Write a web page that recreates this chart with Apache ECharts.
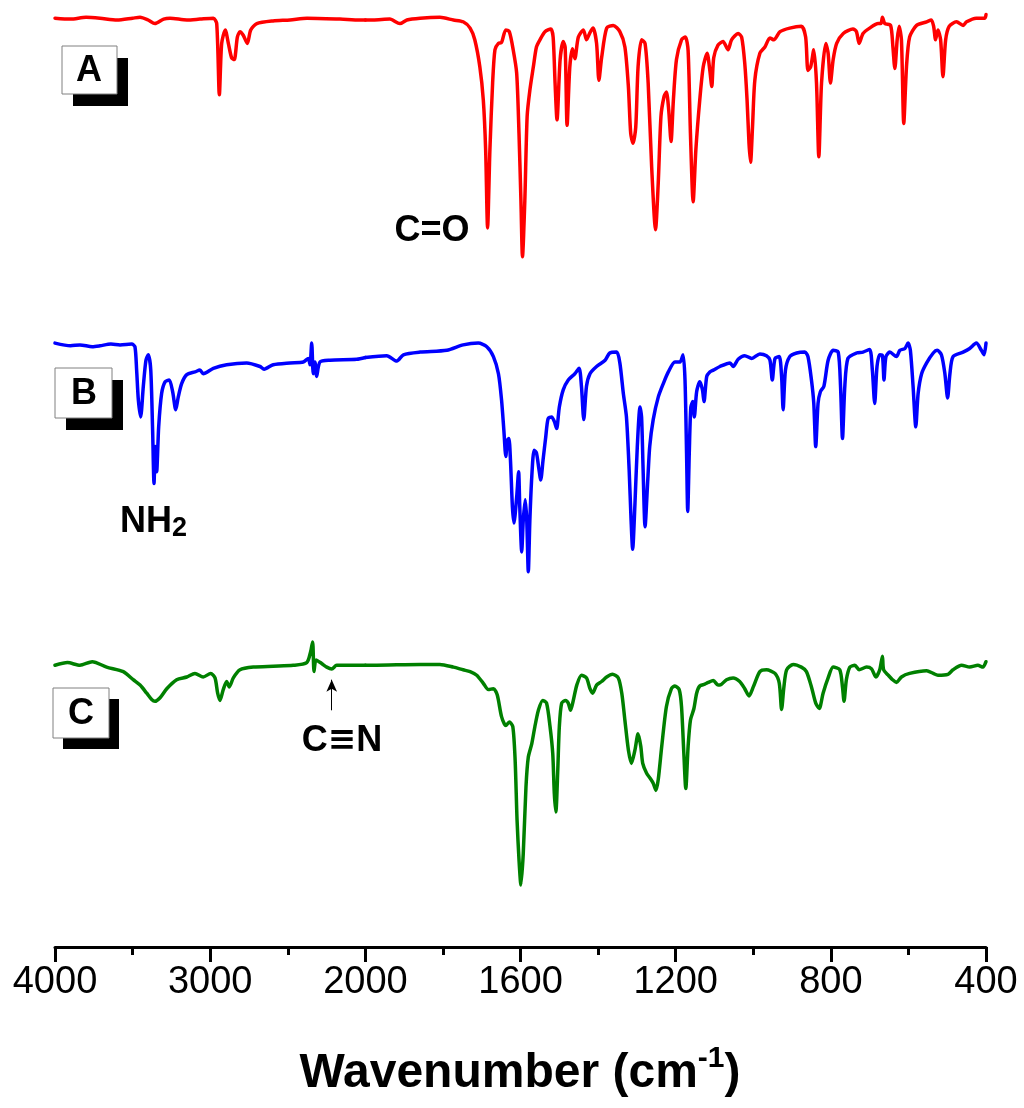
<!DOCTYPE html>
<html><head><meta charset="utf-8">
<script src="https://cdn.jsdelivr.net/npm/echarts@6/dist/echarts.min.js"></script>
<style>html,body{margin:0;padding:0;background:#fff}#c{width:1024px;height:1108px}</style>
</head><body><div id="c"></div>
<script>
// FTIR spectra: [wavenumber (cm-1), transmittance (a.u., offset)]
const spectrumA = [[4000,103.2],[3900,103.1],[3800,103.3],[3710,103.2],[3600,103.0],[3500,103.2],[3452,103.3],[3400,103.0],[3356,102.6],[3300,103.1],[3259,103.2],[3150,103.0],[3066,103.1],[2980,103.2],[2958,102.6],[2941,94.7],[2926,100.4],[2903,101.9],[2883,100.4],[2862,98.8],[2845,98.6],[2825,101.1],[2808,101.7],[2787,101.3],[2761,100.4],[2739,101.9],[2700,102.6],[2595,102.9],[2486,103.0],[2376,103.2],[2164,103.1],[2035,103.0],[2000,103.0],[1980,103.0],[1937,103.1],[1911,102.6],[1893,103.0],[1859,103.2],[1808,103.3],[1773,103.0],[1748,102.8],[1730,102.1],[1718,100.8],[1705,97.8],[1696,94.1],[1690,88.6],[1685,79.9],[1679,88.6],[1672,96.0],[1666,99.7],[1657,100.4],[1649,100.5],[1638,101.9],[1629,101.7],[1619,99.7],[1610,97.1],[1604,90.4],[1599,82.9],[1595,76.7],[1589,82.9],[1583,92.3],[1576,95.2],[1567,97.8],[1559,100.0],[1550,100.8],[1537,101.7],[1522,102.0],[1516,101.1],[1511,96.0],[1506,91.9],[1498,98.6],[1490,100.6],[1485,100.0],[1480,91.3],[1473,97.8],[1466,99.8],[1460,98.7],[1451,101.1],[1438,101.9],[1430,100.8],[1421,101.6],[1413,102.1],[1404,100.4],[1398,96.3],[1391,98.8],[1378,102.1],[1361,102.4],[1344,101.7],[1331,100.0],[1322,95.6],[1316,90.4],[1310,89.3],[1303,91.1],[1297,97.8],[1288,100.8],[1279,100.4],[1271,96.0],[1262,86.7],[1252,79.7],[1245,84.9],[1238,92.3],[1230,94.5],[1224,95.0],[1218,93.0],[1212,89.5],[1206,94.1],[1198,98.6],[1185,100.8],[1175,101.1],[1168,99.6],[1162,90.4],[1155,82.8],[1148,88.6],[1138,94.1],[1129,97.8],[1119,99.3],[1112,97.4],[1107,95.6],[1102,98.8],[1091,100.2],[1078,100.6],[1065,99.7],[1056,100.8],[1039,101.5],[1030,101.1],[1022,98.2],[1016,94.1],[1011,89.3],[1007,87.2],[1002,91.1],[996,96.3],[983,99.3],[970,100.0],[957,101.0],[947,100.8],[931,101.7],[906,102.1],[876,102.3],[865,101.1],[859,97.4],[852,97.8],[844,99.7],[837,96.0],[831,87.8],[824,96.0],[813,100.4],[807,99.3],[801,96.0],[794,98.6],[785,100.4],[768,101.5],[743,102.0],[734,101.7],[727,100.4],[717,101.5],[700,102.1],[678,102.6],[671,102.6],[667,103.3],[661,102.6],[646,102.4],[640,100.0],[635,97.6],[629,100.8],[624,102.3],[618,100.8],[612,91.5],[605,97.8],[597,101.1],[579,102.4],[553,102.8],[541,103.0],[535,102.3],[530,100.8],[524,101.9],[517,100.8],[511,96.7],[504,100.8],[495,102.3],[476,102.8],[459,102.4],[450,102.8],[425,103.2],[403,103.2],[400,103.6]];

const spectrumB = [[4000,67.1],[3900,66.8],[3839,66.9],[3760,66.7],[3710,66.8],[3640,67.0],[3581,66.9],[3506,67.0],[3485,66.7],[3474,64.1],[3463,60.8],[3448,58.9],[3431,62.3],[3414,65.2],[3399,65.8],[3383,64.1],[3371,57.4],[3362,51.5],[3354,55.6],[3345,52.8],[3332,57.8],[3313,61.5],[3291,62.8],[3264,63.0],[3242,61.7],[3222,59.7],[3206,61.1],[3184,62.6],[3151,63.6],[3098,63.9],[3066,64.1],[3045,63.7],[2980,64.3],[2894,64.7],[2765,64.9],[2679,64.5],[2653,64.2],[2594,64.7],[2486,64.9],[2400,65.0],[2368,65.4],[2357,64.7],[2346,67.1],[2336,63.7],[2325,65.0],[2314,63.4],[2293,65.0],[2228,65.2],[2056,65.3],[2000,65.5],[1945,65.7],[1919,65.1],[1902,65.8],[1859,66.1],[1790,66.3],[1748,66.9],[1709,67.1],[1687,66.7],[1670,65.6],[1657,63.7],[1649,60.8],[1643,57.4],[1638,54.5],[1634,56.3],[1630,56.5],[1626,54.1],[1621,48.9],[1617,47.1],[1610,50.0],[1605,52.8],[1602,48.9],[1597,43.9],[1593,47.4],[1588,49.7],[1584,47.4],[1580,41.7],[1576,47.4],[1571,52.3],[1565,55.2],[1559,54.9],[1553,53.2],[1548,51.9],[1542,54.1],[1535,56.7],[1529,58.7],[1520,58.9],[1513,58.4],[1507,57.6],[1500,60.0],[1490,61.9],[1477,63.0],[1460,63.7],[1449,64.3],[1443,62.3],[1437,58.6],[1430,62.3],[1421,63.7],[1404,64.5],[1382,65.2],[1370,66.0],[1352,66.1],[1344,64.9],[1335,61.5],[1327,58.9],[1320,53.0],[1315,47.4],[1311,44.2],[1305,49.3],[1299,55.6],[1292,60.0],[1288,58.9],[1284,53.0],[1279,46.7],[1272,51.9],[1267,55.6],[1258,58.6],[1245,61.1],[1232,62.6],[1219,63.9],[1202,65.0],[1189,65.0],[1181,65.8],[1176,63.0],[1172,54.9],[1169,48.4],[1165,54.9],[1161,60.0],[1156,60.6],[1152,58.9],[1146,61.7],[1138,62.8],[1131,61.9],[1127,60.6],[1120,63.4],[1112,63.9],[1103,64.1],[1086,64.5],[1060,64.9],[1052,64.5],[1039,65.3],[1022,65.7],[1004,65.4],[983,65.9],[966,65.7],[957,65.2],[951,63.0],[944,65.4],[933,65.6],[927,63.4],[923,59.7],[917,64.1],[906,65.6],[888,66.0],[867,66.1],[859,65.6],[850,63.0],[844,60.4],[839,55.6],[833,60.4],[827,61.7],[818,62.3],[807,65.2],[794,66.3],[781,66.1],[775,62.3],[770,56.5],[764,62.3],[756,65.4],[734,66.0],[717,66.1],[700,66.4],[693,64.1],[687,60.4],[681,64.5],[674,65.8],[667,65.7],[663,63.0],[658,65.6],[648,66.1],[631,65.6],[622,66.3],[609,66.5],[601,67.1],[595,66.3],[588,62.3],[581,57.8],[575,61.5],[566,63.7],[553,64.9],[536,66.0],[526,66.3],[515,65.8],[506,63.7],[499,61.0],[493,63.7],[485,65.6],[459,66.1],[442,66.5],[425,67.1],[412,66.3],[405,65.8],[400,67.1]];

const spectrumC = [[4000,31.3],[3920,31.6],[3839,31.3],[3760,31.7],[3667,31.1],[3560,30.6],[3496,29.7],[3452,29.1],[3409,28.2],[3377,27.5],[3356,27.3],[3323,27.7],[3280,28.7],[3216,29.7],[3151,30.0],[3098,30.4],[3045,30.0],[2997,30.4],[2969,29.9],[2952,28.2],[2937,27.4],[2916,28.6],[2894,29.5],[2877,28.9],[2851,29.9],[2808,30.8],[2722,31.1],[2594,31.2],[2465,31.3],[2378,31.6],[2353,32.8],[2340,33.9],[2331,30.6],[2318,31.9],[2282,31.5],[2249,31.1],[2217,30.9],[2185,31.3],[2035,31.3],[2000,31.3],[1980,31.3],[1859,31.4],[1808,31.4],[1773,31.1],[1748,30.8],[1730,30.6],[1713,30.2],[1696,29.3],[1683,28.6],[1670,28.7],[1660,28.0],[1649,25.6],[1638,24.6],[1629,25.0],[1620,24.5],[1614,20.8],[1609,14.1],[1604,9.7],[1599,6.9],[1593,10.4],[1586,17.8],[1580,21.1],[1571,22.6],[1563,24.5],[1554,26.3],[1543,27.4],[1533,27.1],[1524,24.5],[1517,21.5],[1513,17.1],[1509,15.0],[1504,19.7],[1500,24.5],[1494,27.1],[1484,27.4],[1477,27.1],[1471,26.3],[1464,27.4],[1455,29.1],[1443,30.2],[1430,29.9],[1421,28.7],[1414,28.2],[1404,29.1],[1391,29.5],[1378,30.0],[1363,30.3],[1348,29.9],[1339,28.2],[1331,25.2],[1322,21.9],[1314,20.4],[1305,21.9],[1297,23.7],[1290,22.3],[1285,20.4],[1275,19.3],[1265,18.7],[1258,18.2],[1251,17.4],[1245,18.6],[1236,22.3],[1224,26.7],[1211,28.7],[1202,29.0],[1191,28.6],[1185,26.7],[1179,21.5],[1174,17.6],[1168,22.3],[1162,25.2],[1153,26.5],[1146,28.2],[1138,29.0],[1125,29.2],[1116,29.4],[1103,29.6],[1091,29.1],[1086,29.1],[1069,29.7],[1052,29.9],[1035,29.5],[1022,28.7],[1011,27.9],[1000,28.9],[983,30.6],[966,30.8],[944,30.4],[933,29.3],[927,26.4],[921,28.9],[914,30.8],[897,31.4],[876,31.1],[863,30.6],[850,28.9],[839,27.1],[830,26.5],[820,28.2],[807,29.9],[794,31.1],[777,30.8],[770,28.9],[766,27.3],[760,29.7],[751,31.1],[738,31.3],[727,30.8],[708,31.1],[695,30.9],[684,30.0],[674,30.8],[667,32.3],[664,30.8],[652,30.2],[641,29.7],[631,29.4],[618,30.0],[597,30.4],[553,30.7],[536,30.4],[524,30.2],[498,30.3],[485,30.8],[463,31.3],[442,31.1],[421,31.3],[408,31.1],[400,31.7]];

const spectrumLabels = ['A', 'B', 'C'];
const breakWavenumber = 2000;          // axis scale changes here
const highRange = [2000, 4000];        // left segment (compressed)
const lowRange = [400, 2000];          // right segment
const highTickStep = 1000;
const lowTickStep = 400;
const nitrileArrow = [[2217, 26.3], [2217, 29.7]]; // C≡N marker (wavenumber, a.u.)

const colors = ['#ff0000', '#0000ff', '#008000'];
const FONT = '"Liberation Sans", Arial, "DejaVu Sans", sans-serif';

const hi = d => d.filter(p => p[0] >= breakWavenumber);
const lo = d => d.filter(p => p[0] <= breakWavenumber);

const chart = echarts.init(document.getElementById('c'), null, {renderer: 'canvas'});

const axisCommon = {
  type: 'value', inverse: true,
  axisLine: {show: true, onZero: false, lineStyle: {color: '#000', width: 3}},
  axisTick: {show: true, inside: false, length: 15, lineStyle: {color: '#000', width: 3}},
  minorTick: {show: true, splitNumber: 2, length: 8, lineStyle: {color: '#000', width: 3}},
  axisLabel: {color: '#000', fontSize: 38, fontFamily: FONT, margin: 17, formatter: v => String(v)},
  splitLine: {show: false}, minorSplitLine: {show: false}
};

const series = [];
[spectrumA, spectrumB, spectrumC].forEach((spec, i) => {
  [hi(spec), lo(spec)].forEach((part, k) => {
    const s = {
      type: 'line', name: spectrumLabels[i], xAxisIndex: k, yAxisIndex: k,
      data: part, showSymbol: false, symbol: 'none', silent: true, clip: false,
      smooth: 0.25,
      lineStyle: {color: colors[i], width: 3.5, join: 'round', cap: 'round'},
      itemStyle: {color: colors[i]}, animation: false
    };
    if (i === 2 && k === 0) {
      s.markLine = {
        silent: true, animation: false, symbol: ['none', 'arrow'], symbolSize: [8, 12],
        label: {show: false},
        lineStyle: {color: '#000', width: 1, type: 'solid'},
        data: [[{coord: nitrileArrow[0]}, {coord: nitrileArrow[1]}]]
      };
    }
    series.push(s);
  });
});

function labelBox(letter, bx, by, bw, bh, sx, sy, tx, ty) {
  return [
    {type: 'rect', shape: {x: sx, y: sy, width: bw, height: bh}, style: {fill: '#000'}, z: 10},
    {type: 'rect', shape: {x: bx, y: by, width: bw, height: bh}, style: {fill: '#fff', stroke: '#808080', lineWidth: 1}, z: 11},
    {type: 'text', x: tx, y: ty, z: 12, style: {text: letter, fill: '#000', font: 'bold 36px ' + FONT, align: 'center', verticalAlign: 'middle'}}
  ];
}

const graphics = [].concat(
  labelBox(spectrumLabels[0], 62, 46, 55, 48, 73, 58, 89, 71),
  labelBox(spectrumLabels[1], 55, 368, 57, 50, 66, 380, 84, 394),
  labelBox(spectrumLabels[2], 53, 688, 56, 50, 63, 699, 81, 714),
  [
    {type: 'text', x: 432, y: 231, z: 12, style: {text: 'C=O', fill: '#000', font: 'bold 36px ' + FONT, align: 'center', verticalAlign: 'middle'}},
    {type: 'text', x: 120, y: 522, z: 12, style: {
      text: '{n|NH}{s|2}', align: 'left', verticalAlign: 'middle',
      rich: {
        n: {fontSize: 36, fontWeight: 'bold', fontFamily: FONT, fill: '#000', color: '#000', lineHeight: 40},
        s: {fontSize: 27, fontWeight: 'bold', fontFamily: FONT, fill: '#000', color: '#000', lineHeight: 12, verticalAlign: 'bottom'}
      }}},
    {type: 'text', x: 342, y: 741, z: 12, style: {
      text: '{c|C}{t|\u2261}{c|N}', align: 'center', verticalAlign: 'middle',
      rich: {
        c: {fontSize: 36, fontWeight: 'bold', fontFamily: FONT, fill: '#000', color: '#000', lineHeight: 40},
        t: {fontSize: 34, fontWeight: 'bold', fontFamily: '"DejaVu Sans", sans-serif', fill: '#000', color: '#000', lineHeight: 40}
      }}},
    {type: 'text', x: 520, y: 1074, z: 12, style: {
      text: '{a|Wavenumber (cm}{s|-1}{a|)}', align: 'center', verticalAlign: 'middle',
      rich: {
        a: {fontSize: 48, fontWeight: 'bold', fontFamily: FONT, fill: '#000', color: '#000', lineHeight: 60},
        s: {fontSize: 30, fontWeight: 'bold', fontFamily: FONT, fill: '#000', color: '#000', lineHeight: 36, verticalAlign: 'top'}
      }}}
  ]
);

chart.setOption({
  animation: false,
  backgroundColor: '#fff',
  grid: [
    {left: 55, top: 2, width: 310.4, height: 945},
    {left: 365.4, top: 2, width: 620.6, height: 945}
  ],
  xAxis: [
    Object.assign({}, axisCommon, {gridIndex: 0, min: highRange[0], max: highRange[1], interval: highTickStep}),
    Object.assign({}, axisCommon, {gridIndex: 1, min: lowRange[0], max: lowRange[1], interval: lowTickStep,
      axisLabel: Object.assign({}, axisCommon.axisLabel, {formatter: v => (v === breakWavenumber ? '' : String(v))})})
  ],
  yAxis: [
    {gridIndex: 0, type: 'value', min: 0, max: 105, show: false},
    {gridIndex: 1, type: 'value', min: 0, max: 105, show: false}
  ],
  series: series,
  graphic: graphics
});
</script></body></html>
